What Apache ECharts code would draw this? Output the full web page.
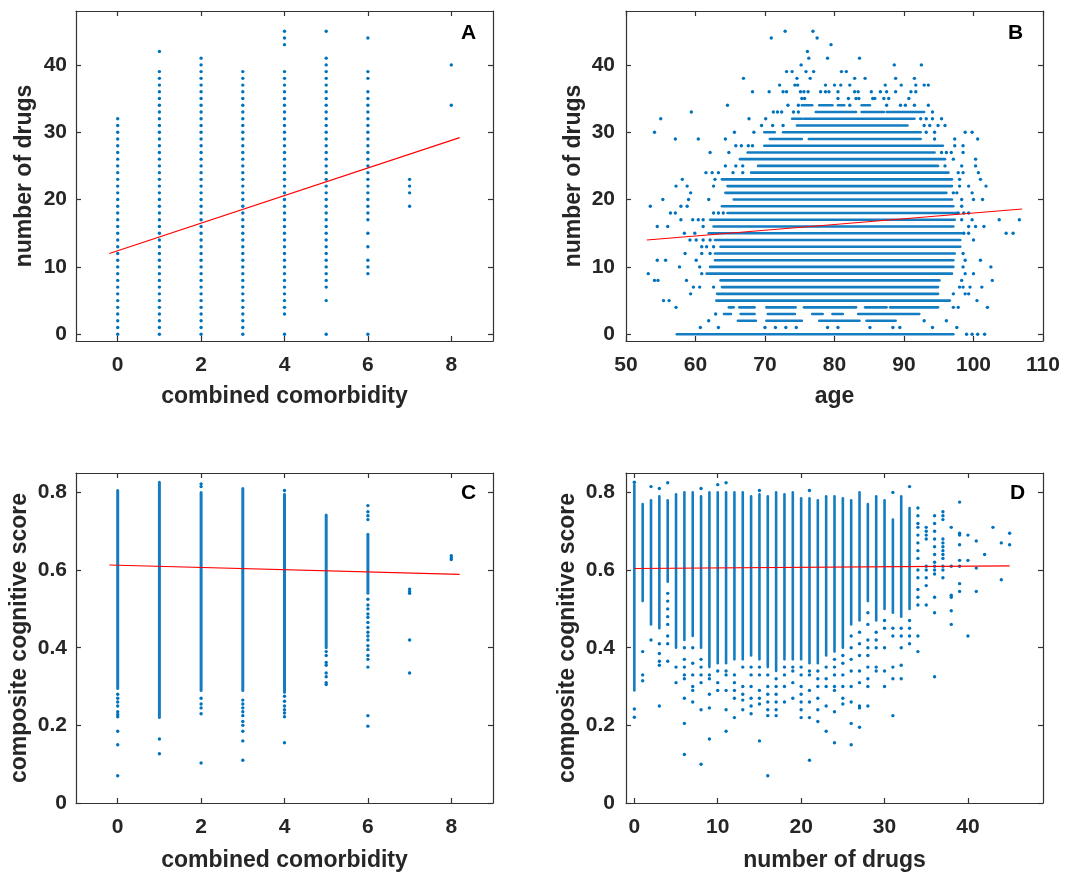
<!DOCTYPE html>
<html><head><meta charset="utf-8">
<script src="https://cdn.jsdelivr.net/npm/echarts@6/dist/echarts.min.js"></script>
<style>html,body{margin:0;padding:0;background:#fff}#c{width:1065px;height:876px}</style>
</head><body><div id="c"></div>
<script>
// ---------------- Panel A: number of drugs vs combined comorbidity ----------------
const drugsAtComorb0 = [0,1,2,3,4,5,6,7,8,9,10,11,12,13,14,15,16,17,18,19,20,21,22,23,24,25,26,27,28,29,30,31,32];
const drugsAtComorb1 = [0,1,2,3,4,5,6,7,8,9,10,11,12,13,14,15,16,17,18,19,20,21,22,23,24,25,26,27,28,29,30,31,32,33,34,35,36,37,38,39,42];
const drugsAtComorb2 = [0,1,2,3,4,5,6,7,8,9,10,11,12,13,14,15,16,17,18,19,20,21,22,23,24,25,26,27,28,29,30,31,32,33,34,35,36,37,38,39,40,41];
const drugsAtComorb3 = [0,1,2,3,4,5,6,7,8,9,10,11,12,13,14,15,16,17,18,19,20,21,22,23,24,25,26,27,28,29,30,31,32,33,34,35,36,37,38,39];
const drugsAtComorb4 = [0,3,4,5,6,7,8,9,10,11,12,13,14,15,16,17,18,19,20,21,22,23,24,25,26,27,28,29,30,31,32,33,34,35,36,37,38,39,43,44,45];
const drugsAtComorb5 = [0,5,7,8,9,10,11,12,13,14,15,16,17,18,19,20,21,22,23,24,25,26,27,28,29,30,31,32,33,34,35,36,37,38,39,40,41,45];
const drugsAtComorb6 = [0,9,10,11,13,15,17,18,19,20,21,22,23,24,25,26,27,28,29,30,31,32,33,34,35,36,38,39,44];
const drugsAtComorb7 = [19,21,22,23];
const drugsAtComorb8 = [34,40];
const fitA = [[-0.2, 12.0], [8.2, 29.2]];

// ---------------- Panel B: number of drugs vs age ----------------
// isolated points per drug count: [drugs, [ages]]
const agePointRowsB = [
  [45,[72.9,76.9]],
  [44,[70.9,77.5]],
  [43,[79.5]],
  [42,[76.1]],
  [41,[76.3,79.0,83.6]],
  [40,[75.2,88.6,92.5]],
  [39,[73.1,73.9,75.9,77.0,81.0,81.7]],
  [38,[66.9,74.6,76.5,82.9,84.4,88.8,91.5]],
  [37,[72.1,74.3,74.7,78.7,80.0,80.9,82.2,87.3,89.6,91.7,92.9,93.5]],
  [36,[68.2,70.6,72.6,73.1,75.1,75.6,76.2,78.0,78.7,79.2,80.5,82.9,83.4,85.3,86.6,87.5,88.8,91.0,91.7]],
  [35,[75.3,75.7,80.5,82.0,83.1,83.5,85.5,85.8,87.1,87.8,90.7]],
  [34,[64.6,73.3,74.8,82.2,87.5,89.5,90.2,91.5,93.5]],
  [33,[59.4,71.2,71.8,72.4,74.1,74.8,94.1]],
  [32,[55.0,67.7,70.1,92.4,93.2,94.1,95.4]],
  [31,[69.5,71.1,72.6,92.9,93.7,94.9,95.9]],
  [30,[54.1,65.6,68.4,93.2,94.4,98.8,99.8]],
  [29,[57.1,60.4,64.3,94.4,97.3,100.6]],
  [28,[65.8,66.6,67.6,68.2,97.3,98.5]],
  [27,[62.1,64.8,95.4,96.1,96.8,98.5]],
  [26,[97.1,100.3]],
  [25,[64.3,65.8,66.8,95.9,98.3,100.3]],
  [24,[61.5,62.4,63.3,65.4,66.8,97.8,98.5,100.7]],
  [23,[58.1,62.8,98.0,101.0]],
  [22,[57.2,58.8,62.6,98.0,99.3,101.8]],
  [21,[59.3,97.1,97.6,99.8]],
  [20,[55.3,59.0,61.9,98.3,100.0,101.3]],
  [19,[53.5,57.9,58.8,98.3]],
  [18,[56.4,57.1,62.6,63.3,64.0,97.8,98.6,99.3]],
  [17,[57.9,59.6,60.4,61.1,98.3,99.8,103.7,106.6]],
  [16,[54.5,56.0,61.1,99.3,100.3,101.5]],
  [15,[58.4,59.9,98.6,99.3,104.7,105.7]],
  [14,[59.2,60.1,61.1,62.1,100.0]],
  [13,[60.9,61.6,62.6]],
  [12,[58.5,60.9,62.1,98.5]],
  [11,[54.5,55.7,60.1,98.8,101.0]],
  [10,[57.7,60.6,98.5,102.5]],
  [9,[53.2,60.9,98.8,100.0]],
  [8,[54.1,54.6,58.7,98.3,102.7]],
  [7,[59.7,60.6,62.6,98.0,98.5,99.5,101.2]],
  [6,[59.3,97.1,98.8,99.3]],
  [5,[55.4,56.2,100.5]],
  [4,[57.2,97.1,97.8,102.0]],
  [3,[62.9]],
  [2,[61.9,92.9,96.1]],
  [1,[60.7,63.3,70.0,71.5,73.0,74.5,79.0,80.5,85.1,88.4,89.4,94.1,97.6]],
  [0,[99.0,99.8,100.6,101.6]]
];
// densely packed stretches: [drugs, ageFrom, ageTo]
const ageRunsB = [
  [34,75.3,76.8],[34,77.8,79.7],[34,80.5,81.4],[34,83.9,85.1],
  [33,77.3,83.1],[33,83.9,87.1],[33,87.5,92.9],
  [32,73.9,75.3],[32,75.6,91.5],
  [31,74.6,90.5],
  [30,69.9,71.4],[30,72.6,92.4],
  [29,70.7,75.3],[29,76.3,92.4],
  [28,69.9,95.6],
  [27,67.5,94.4],
  [26,66.4,95.9],
  [25,69.0,94.9],
  [24,68.0,96.4],
  [23,63.8,96.9],
  [22,64.6,96.9],
  [21,64.3,96.1],
  [20,65.5,96.9],
  [19,63.8,97.1],
  [18,64.6,97.6],
  [17,62.1,97.3],
  [16,62.6,97.1],
  [15,61.9,98.3],
  [14,62.8,98.1],
  [13,63.6,98.1],
  [12,62.8,97.3],
  [11,62.8,97.1],
  [10,62.1,97.1],
  [9,61.6,96.9],
  [8,63.6,95.1],
  [7,63.8,94.9],
  [6,63.1,94.9],
  [5,63.0,96.6],
  [4,64.8,65.5],[4,66.3,68.5],[4,70.2,74.4],[4,75.6,83.1],[4,84.4,87.5],[4,88.0,94.9],
  [3,64.1,65.1],[3,66.5,68.5],[3,70.4,74.3],[3,76.8,78.3],[3,79.7,81.2],[3,83.4,92.2],
  [2,66.1,68.7],[2,70.2,75.3],[2,77.8,83.6],[2,84.6,88.8],
  [0,57.3,97.1]
];
const fitB = [[53, 14.0], [107, 18.6]];

// ---------------- Panel C: cognitive score vs combined comorbidity ----------------
const scoreRunsC = [
  [0,0.295,0.805],[1,0.22,0.826],[2,0.29,0.80],[3,0.29,0.81],[4,0.285,0.795],[5,0.40,0.742],[6,0.54,0.692]
];
const scorePointRowsC = [
  [0,[0.28,0.27,0.26,0.25,0.235,0.228,0.222,0.185,0.15,0.07]],
  [1,[0.165,0.127]],
  [2,[0.815,0.822,0.27,0.255,0.245,0.23,0.103]],
  [3,[0.265,0.255,0.245,0.235,0.225,0.21,0.20,0.185,0.16,0.11]],
  [4,[0.805,0.275,0.262,0.25,0.24,0.232,0.222,0.155]],
  [5,[0.39,0.38,0.362,0.355,0.335,0.325,0.31,0.305]],
  [6,[0.766,0.75,0.74,0.73,0.525,0.51,0.50,0.487,0.478,0.465,0.452,0.44,0.43,0.42,0.405,0.395,0.38,0.37,0.35,0.225,0.198]],
  [7,[0.551,0.545,0.54,0.42,0.335]],
  [8,[0.637,0.632,0.627]]
];
const fitC = [[-0.2, 0.613], [8.2, 0.589]];

// ---------------- Panel D: cognitive score vs number of drugs ----------------
const scoreRunsD = [
  [0,0.29,0.82],[1,0.52,0.77],[2,0.46,0.78],[3,0.45,0.79],[4,0.57,0.78],[5,0.40,0.795],
  [6,0.42,0.80],[7,0.43,0.80],[8,0.40,0.79],[9,0.35,0.80],[10,0.36,0.80],[11,0.36,0.80],
  [12,0.37,0.80],[13,0.37,0.80],[14,0.38,0.79],[15,0.37,0.795],[16,0.35,0.79],[17,0.34,0.80],
  [18,0.37,0.795],[19,0.37,0.80],[20,0.37,0.785],[21,0.36,0.785],[22,0.36,0.78],[23,0.38,0.79],
  [24,0.39,0.79],[25,0.40,0.785],[26,0.46,0.78],[27,0.47,0.80],[28,0.52,0.77],[29,0.47,0.79],
  [30,0.50,0.78],[31,0.49,0.73],[32,0.48,0.79],[33,0.50,0.76]
];
const scorePointRowsD = [
  [0,[0.826,0.242,0.221]],
  [1,[0.39,0.33,0.315]],
  [2,[0.815,0.42]],
  [3,[0.81,0.41,0.385,0.365,0.355,0.25]],
  [4,[0.825,0.54,0.52,0.50,0.48,0.46,0.43,0.41,0.365]],
  [5,[0.35,0.31]],
  [6,[0.40,0.37,0.35,0.33,0.32,0.27,0.205,0.125]],
  [7,[0.40,0.36,0.33,0.30,0.29,0.26]],
  [8,[0.81,0.37,0.35,0.33,0.31,0.24,0.10]],
  [9,[0.33,0.32,0.28,0.245,0.165]],
  [10,[0.82,0.34,0.31,0.29]],
  [11,[0.825,0.34,0.33,0.29,0.24,0.185]],
  [12,[0.33,0.31,0.29,0.27,0.22]],
  [13,[0.35,0.30,0.28,0.265,0.24]],
  [14,[0.35,0.33,0.30,0.27,0.25,0.23]],
  [15,[0.805,0.35,0.33,0.29,0.27,0.255,0.16]],
  [16,[0.33,0.30,0.28,0.26,0.24,0.225,0.07]],
  [17,[0.32,0.30,0.28,0.26,0.24,0.225]],
  [18,[0.35,0.33,0.30,0.26]],
  [19,[0.35,0.34,0.31,0.27]],
  [20,[0.35,0.33,0.30,0.28,0.26,0.24,0.22]],
  [21,[0.805,0.34,0.33,0.29,0.26,0.22,0.11]],
  [22,[0.34,0.32,0.30,0.27,0.24,0.21]],
  [23,[0.35,0.32,0.30,0.25,0.185]],
  [24,[0.37,0.35,0.33,0.30,0.29,0.235,0.155]],
  [25,[0.38,0.36,0.33,0.30,0.27,0.255]],
  [26,[0.43,0.40,0.37,0.34,0.30,0.26,0.205,0.15]],
  [27,[0.44,0.41,0.38,0.34,0.31,0.25,0.245,0.195]],
  [28,[0.49,0.46,0.42,0.40,0.38,0.35,0.32,0.30,0.25]],
  [29,[0.44,0.42,0.40,0.35,0.34]],
  [30,[0.47,0.45,0.40,0.34,0.30]],
  [31,[0.80,0.45,0.43,0.35,0.32,0.225]],
  [32,[0.45,0.43,0.40,0.355,0.32]],
  [33,[0.815,0.47,0.45,0.43,0.41]],
  [34,[0.76,0.74,0.72,0.71,0.69,0.67,0.65,0.63,0.60,0.58,0.55,0.53,0.51,0.43,0.39]],
  [35,[0.71,0.70,0.69,0.68,0.61,0.60,0.58,0.56,0.51]],
  [36,[0.74,0.72,0.70,0.68,0.66,0.64,0.62,0.61,0.60,0.59,0.53,0.49,0.325]],
  [37,[0.75,0.74,0.73,0.68,0.67,0.66,0.65,0.64,0.63,0.61,0.60,0.58]],
  [38,[0.71,0.61,0.535,0.53,0.495,0.46]],
  [39,[0.775,0.695,0.69,0.665,0.625,0.61,0.565,0.545]],
  [40,[0.69,0.625,0.43]],
  [41,[0.675,0.605,0.545]],
  [42,[0.64]],
  [43,[0.71]],
  [44,[0.67,0.575]],
  [45,[0.695,0.665]]
];
const fitD = [[0, 0.604], [45, 0.611]];

// tick labels
const drugTicks = [0,10,20,30,40];
const comorbTicks = [0,2,4,6,8];
const ageTicks = [50,60,70,80,90,100,110];
const scoreTicks = [0,0.2,0.4,0.6,0.8];

// ---------------- build ----------------
const BLUE = '#0072BD', TXT = '#262626', FONT = '"Liberation Sans", Arial, Helvetica, sans-serif';
const comorbCols = [drugsAtComorb0,drugsAtComorb1,drugsAtComorb2,drugsAtComorb3,drugsAtComorb4,drugsAtComorb5,drugsAtComorb6,drugsAtComorb7,drugsAtComorb8];
const ptsA = []; comorbCols.forEach((col, x) => col.forEach(y => ptsA.push([x, y])));
const ptsB = []; agePointRowsB.forEach(([y, ages]) => ages.forEach(a => ptsB.push([a, y])));
const ptsC = []; scorePointRowsC.forEach(([x, vs]) => vs.forEach(v => ptsC.push([x, v])));
const ptsD = []; scorePointRowsD.forEach(([x, vs]) => vs.forEach(v => ptsD.push([x, v])));

const grids = [
  {left:76, top:11, width:417, height:330},
  {left:626, top:11, width:417, height:330},
  {left:76, top:473, width:417, height:330},
  {left:626, top:473, width:417, height:330}
];
const lineStyle = {color: '#333333', width: 1.2};
function xAxes(g, min, max, ticks, name, gap) {
  return [
    {gridIndex:g, type:'value', position:'bottom', min, max, name, nameLocation:'middle', nameGap:gap,
     nameTextStyle:{color:TXT, fontSize:23, fontWeight:'bold', fontFamily:FONT},
     axisLine:{show:true, onZero:false, lineStyle}, splitLine:{show:false},
     axisTick:{show:true, inside:true, length:5, customValues:ticks, lineStyle},
     axisLabel:{show:true, customValues:ticks, margin:14, color:TXT, fontSize:21, fontWeight:'bold', fontFamily:FONT}},
    {gridIndex:g, type:'value', position:'top', min, max,
     axisLine:{show:true, onZero:false, lineStyle}, splitLine:{show:false},
     axisTick:{show:true, inside:true, length:5, customValues:ticks, lineStyle},
     axisLabel:{show:false}}
  ];
}
function yAxes(g, min, max, ticks, name, gap, margin) {
  return [
    {gridIndex:g, type:'value', position:'left', min, max, name, nameLocation:'middle', nameGap:gap,
     nameTextStyle:{color:TXT, fontSize:23, fontWeight:'bold', fontFamily:FONT},
     axisLine:{show:true, onZero:false, lineStyle}, splitLine:{show:false},
     axisTick:{show:true, inside:true, length:5, customValues:ticks, lineStyle},
     axisLabel:{show:true, customValues:ticks, margin, color:TXT, fontSize:21, fontWeight:'bold', fontFamily:FONT}},
    {gridIndex:g, type:'value', position:'right', min, max,
     axisLine:{show:true, onZero:false, lineStyle}, splitLine:{show:false},
     axisTick:{show:true, inside:true, length:5, customValues:ticks, lineStyle},
     axisLabel:{show:false}}
  ];
}
function scatter(g, data) {
  return {type:'scatter', xAxisIndex:2*g, yAxisIndex:2*g, data, symbolSize:3.4,
          itemStyle:{color:BLUE, opacity:1}, silent:true, animation:false, z:2};
}
function runs(g, data, w) {
  return {type:'custom', xAxisIndex:2*g, yAxisIndex:2*g, data, encode:{x:[0,2], y:[1,3]},
    silent:true, animation:false, z:2,
    renderItem:(params, api) => {
      const p1 = api.coord([api.value(0), api.value(1)]);
      const p2 = api.coord([api.value(2), api.value(3)]);
      return {type:'line', shape:{x1:p1[0], y1:p1[1], x2:p2[0], y2:p2[1]},
              style:{stroke:BLUE, lineWidth:w, lineCap:'round', opacity:0.92}};
    }};
}
function fit(g, data) {
  return {type:'line', xAxisIndex:2*g, yAxisIndex:2*g, data, symbol:'none', silent:true, animation:false,
          lineStyle:{color:'#FF0000', width:1.2}, z:5};
}

const option = {
  backgroundColor:'#ffffff',
  animation:false,
  grid: grids,
  xAxis: [].concat(
    xAxes(0, -1, 9, comorbTicks, 'combined comorbidity', 44),
    xAxes(1, 50, 110, ageTicks, 'age', 44),
    xAxes(2, -1, 9, comorbTicks, 'combined comorbidity', 46),
    xAxes(3, -1, 49, drugTicks, 'number of drugs', 46)
  ),
  yAxis: [].concat(
    yAxes(0, -1, 48, drugTicks, 'number of drugs', 40, 9),
    yAxes(1, -1, 48, drugTicks, 'number of drugs', 41, 11),
    yAxes(2, 0, 0.85, scoreTicks, 'composite cognitive score', 45, 9),
    yAxes(3, 0, 0.85, scoreTicks, 'composite cognitive score', 47, 11)
  ),
  graphic: [
    {type:'text', left:461, top:23, style:{text:'A', fill:'#000', font:'bold 21px ' + FONT}},
    {type:'text', left:1008, top:23, style:{text:'B', fill:'#000', font:'bold 21px ' + FONT}},
    {type:'text', left:461, top:483, style:{text:'C', fill:'#000', font:'bold 21px ' + FONT}},
    {type:'text', left:1010, top:483, style:{text:'D', fill:'#000', font:'bold 21px ' + FONT}}
  ],
  series: [
    scatter(0, ptsA), fit(0, fitA),
    runs(1, ageRunsB.map(r => [r[1], r[0], r[2], r[0]]), 2.6), scatter(1, ptsB), fit(1, fitB),
    runs(2, scoreRunsC.map(r => [r[0], r[1], r[0], r[2]]), 3), scatter(2, ptsC), fit(2, fitC),
    runs(3, scoreRunsD.map(r => [r[0], r[1], r[0], r[2]]), 2.6), scatter(3, ptsD), fit(3, fitD)
  ]
};
const chart = echarts.init(document.getElementById('c'), null, {renderer:'canvas'});
chart.setOption(option);
</script>
</body></html>
